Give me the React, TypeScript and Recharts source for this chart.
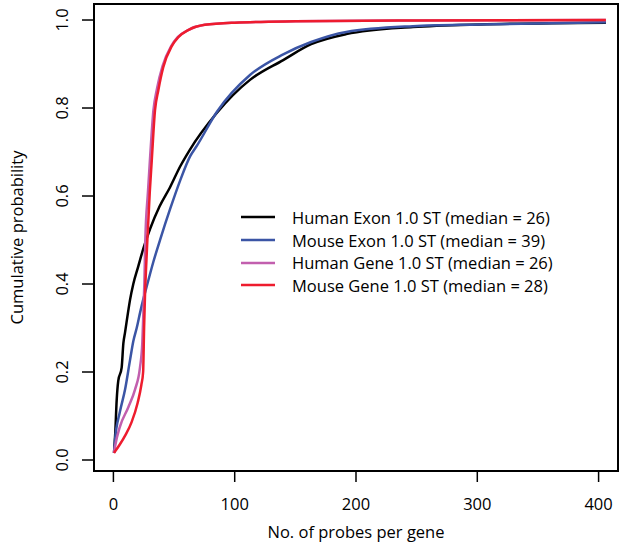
import { Line, LineChart, XAxis, YAxis } from 'recharts'

type Pt = { x: number; p: number }

const pts = (rows: number[][]): Pt[] => rows.map(([x, p]) => ({ x, p }))

// values, probes per gene vs cumulative probability
const humanExon = pts([
  [0.5, 0.016], [1.5, 0.06], [2.7, 0.136], [4, 0.18], [6.8, 0.21], [8.2, 0.265],
  [9.6, 0.29], [12.3, 0.34], [13.7, 0.364], [16.4, 0.4], [20.5, 0.44], [24.6, 0.48],
  [30.2, 0.525], [38, 0.576], [46.7, 0.62], [55, 0.667], [63, 0.705], [85, 0.788],
  [112.6, 0.864], [140, 0.909], [163, 0.945], [192, 0.968], [247, 0.984], [302, 0.99],
  [406, 0.994],
])

const mouseExon = pts([
  [0.5, 0.016], [1.3, 0.045], [5.4, 0.11], [9.6, 0.16], [13.7, 0.227], [16.4, 0.27],
  [19.2, 0.3], [22, 0.335], [24.6, 0.365], [27.5, 0.395], [32.9, 0.45], [39, 0.505],
  [46.7, 0.57], [55, 0.635], [63.2, 0.69], [69, 0.715], [85.5, 0.792], [112.6, 0.875],
  [140, 0.922], [163, 0.95], [192, 0.973], [247, 0.986], [302, 0.99], [406, 0.995],
])

const humanGene = pts([
  [0.5, 0.016], [1.3, 0.03], [5.4, 0.076], [12.3, 0.12], [17.8, 0.16], [21.9, 0.21],
  [23.8, 0.265], [24.6, 0.326], [25.5, 0.4], [26.3, 0.5], [28.5, 0.61], [30.3, 0.69],
  [33, 0.795], [36, 0.845], [40.5, 0.895], [47.5, 0.94], [53, 0.961], [61.5, 0.977],
  [75, 0.989], [100, 0.994], [150, 0.997], [250, 0.999], [406, 1.0],
])

const mouseGene = pts([
  [0.5, 0.016], [5, 0.034], [10, 0.057], [15, 0.086], [20, 0.13], [23, 0.17],
  [24.5, 0.2], [25.3, 0.3], [26, 0.37], [27, 0.44], [28, 0.5], [30, 0.61],
  [31.6, 0.68], [34.3, 0.795], [37, 0.84], [41.1, 0.893], [48, 0.94], [53.5, 0.961],
  [61.7, 0.977], [75.5, 0.989], [100, 0.994], [150, 0.997], [250, 0.999], [406, 1.0],
])

const xTicks = [0, 100, 200, 300, 400]
const yTicks = [0, 0.2, 0.4, 0.6, 0.8, 1.0]

const series = [
  { name: 'Human Exon 1.0 ST (median = 26)', data: humanExon, color: '#000000' },
  { name: 'Mouse Exon 1.0 ST (median = 39)', data: mouseExon, color: '#3b55a5' },
  { name: 'Human Gene 1.0 ST (median = 26)', data: humanGene, color: '#c25fae' },
  { name: 'Mouse Gene 1.0 ST (median = 28)', data: mouseGene, color: '#ee1c2e' },
]

const FONT = '"Open Sans", sans-serif'
const FS = 16.5
const W = 620
const H = 543
const MARGIN = { top: 4, right: 2, bottom: 0, left: 0 }
const Y_AXIS_W = 94
const X_AXIS_H = 72
const X_DOMAIN: [number, number] = [-16, 416]
const Y_DOMAIN: [number, number] = [-0.025, 1.0364]

function YTick({ x, y, payload }: any) {
  return (
    <text
      x={x - 14}
      y={y}
      transform={`rotate(-90, ${x - 14}, ${y})`}
      textAnchor="middle"
      fontSize={FS}
      fill="#000"
      fontFamily={FONT}
    >
      {payload.value.toFixed(1)}
    </text>
  )
}

function SeriesKey() {
  return (
    <div
      style={{
        position: 'absolute',
        left: 239,
        top: 206,
        fontFamily: FONT,
        fontSize: FS,
        color: '#000',
      }}
    >
      {series.map((s) => (
        <div key={s.name} style={{ display: 'flex', alignItems: 'center', height: 22.7 }}>
          <svg width={53} height={10}>
            <line x1={2} y1={5} x2={36} y2={5} stroke={s.color} strokeWidth={2.5} />
          </svg>
          <span style={{ whiteSpace: 'nowrap' }}>{s.name}</span>
        </div>
      ))}
    </div>
  )
}

// R-style box round the plotting region, laid over the chart's plot area
function PlotBox() {
  const left = MARGIN.left + Y_AXIS_W
  const top = MARGIN.top
  const width = W - left - MARGIN.right
  const height = H - top - MARGIN.bottom - X_AXIS_H
  return (
    <div
      style={{
        position: 'absolute',
        left: left - 1,
        top: top - 1,
        width: width + 2,
        height: height + 2,
        boxSizing: 'border-box',
        border: '2px solid #000',
        pointerEvents: 'none',
      }}
    />
  )
}

export default function App() {
  return (
    <div style={{ position: 'absolute', left: 0, top: 0, width: W, height: H, background: '#fff' }}>
      <LineChart width={W} height={H} margin={MARGIN}>
        <XAxis
          type="number"
          dataKey="x"
          domain={X_DOMAIN}
          ticks={xTicks}
          axisLine={false}
          tickLine={{ stroke: '#000', strokeWidth: 1.5 }}
          tickSize={11}
          tickMargin={16}
          height={X_AXIS_H}
          tick={{ fill: '#000', fontSize: FS, fontFamily: FONT }}
          label={{
            value: 'No. of probes per gene',
            position: 'insideBottom',
            offset: 5,
            fill: '#000',
            fontSize: FS,
            fontFamily: FONT,
          }}
        />
        <YAxis
          type="number"
          dataKey="p"
          domain={Y_DOMAIN}
          ticks={yTicks}
          axisLine={false}
          tickLine={{ stroke: '#000', strokeWidth: 1.5 }}
          tickSize={12}
          tickMargin={0}
          width={Y_AXIS_W}
          tick={<YTick />}
          label={{
            content: ({ viewBox }: any) => (
              <text
                x={23}
                y={viewBox.y + viewBox.height / 2}
                transform={`rotate(-90, 23, ${viewBox.y + viewBox.height / 2})`}
                textAnchor="middle"
                fontSize={FS}
                fill="#000"
                fontFamily={FONT}
              >
                Cumulative probability
              </text>
            ),
          }}
        />
        {series.map((s) => (
          <Line
            key={s.name}
            data={s.data}
            dataKey="p"
            type="monotone"
            stroke={s.color}
            strokeWidth={2.5}
            dot={false}
            isAnimationActive={false}
          />
        ))}
      </LineChart>
      <PlotBox />
      <SeriesKey />
    </div>
  )
}
